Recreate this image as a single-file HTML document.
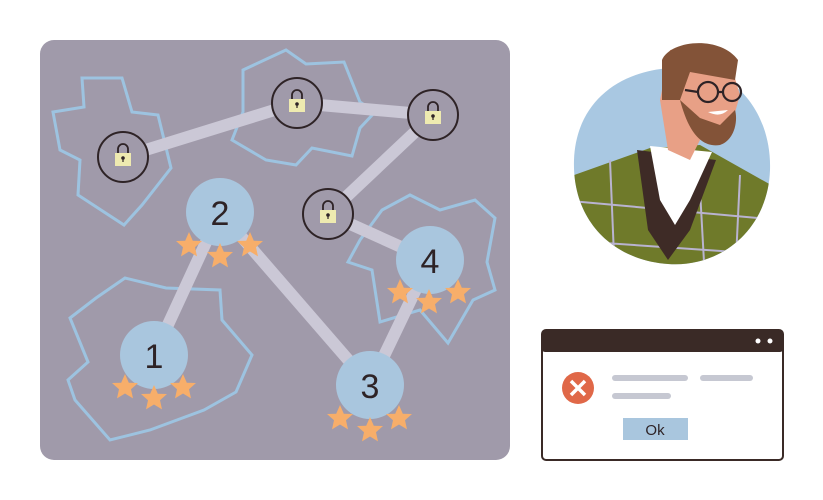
<!DOCTYPE html>
<html><head><style>body{margin:0;background:#fff}svg{display:block}</style></head><body>
<svg width="823" height="500" viewBox="0 0 823 500" xmlns="http://www.w3.org/2000/svg" font-family="Liberation Sans, sans-serif">
<defs>
<clipPath id="cc"><path d="M670,68 C730,60 772,110 770,170 C768,230 720,268 668,264 C612,260 572,220 574,160 C576,105 615,72 670,68Z"/></clipPath>
<g id="lock"><circle r="25" fill="none" stroke="#2e2326" stroke-width="2"/><path d="M-5,-3 v-5 a5,5 0 0 1 10,0 v5" fill="none" stroke="#2e2326" stroke-width="1.8"/><rect x="-8" y="-4" width="16" height="13" fill="#eeeab0"/><circle cy="1" r="1.8" fill="#2e2326"/><rect x="-0.6" y="1" width="1.2" height="4" fill="#2e2326"/></g>
<path id="star" d="M0,-13 L3.8,-4.3 L13,-4 L6,2.2 L8,11.4 L0,6.5 L-8,11.4 L-6,2.2 L-13,-4 L-3.8,-4.3Z" fill="#f7ae6a"/>
</defs>
<rect x="40" y="40" width="470" height="420" rx="14" fill="#a09aaa"/>
<g fill="none" stroke="#9dc3e0" stroke-width="3">
<path d="M53,112 L84,107 L82,78 L122,78 L132,112 L158,115 L171,168 L142,205 L124,225 L78,195 L80,160 L60,150Z"/>
<path d="M243,70 L286,50 L306,64 L344,62 L360,102 L375,112 L360,128 L352,156 L312,148 L296,165 L266,160 L232,140 L243,112Z"/>
<path d="M70,318 L96,298 L125,278 L166,288 L220,290 L222,320 L252,355 L236,392 L204,410 L150,430 L110,440 L75,400 L68,380 L88,362Z"/>
<path d="M360,240 L382,210 L410,195 L440,210 L475,200 L495,218 L487,262 L495,290 L473,300 L448,343 L420,310 L380,322 L372,270 L348,262Z"/>
</g>
<g stroke="#cbc8d6" stroke-width="12">
<line x1="123" y1="157" x2="297" y2="103"/><line x1="297" y1="103" x2="433" y2="115"/><line x1="433" y1="115" x2="328" y2="214"/><line x1="328" y1="214" x2="430" y2="260"/>
<line x1="220" y1="212" x2="154" y2="355"/><line x1="220" y1="212" x2="370" y2="385"/><line x1="430" y1="260" x2="370" y2="385"/>
</g>
<g fill="#a09aaa"><circle cx="123" cy="157" r="25"/><circle cx="297" cy="103" r="25"/><circle cx="433" cy="115" r="25"/><circle cx="328" cy="214" r="25"/></g>
<use href="#lock" x="123" y="157"/><use href="#lock" x="297" y="103"/><use href="#lock" x="433" y="115"/><use href="#lock" x="328" y="214"/>
<g fill="#a9c6de"><circle cx="220" cy="212" r="34"/><circle cx="154" cy="355" r="34"/><circle cx="370" cy="385" r="34"/><circle cx="430" cy="260" r="34"/></g>
<g font-size="34" fill="#2e2326" text-anchor="middle"><text x="220" y="225">2</text><text x="154" y="368">1</text><text x="370" y="398">3</text><text x="430" y="273">4</text></g>
<g>
<use href="#star" x="189" y="245"/><use href="#star" x="220" y="256"/><use href="#star" x="250" y="245"/>
<use href="#star" x="125" y="387"/><use href="#star" x="154" y="398"/><use href="#star" x="183" y="387"/>
<use href="#star" x="340" y="418"/><use href="#star" x="370" y="430"/><use href="#star" x="399" y="418"/>
<use href="#star" x="400" y="292"/><use href="#star" x="429" y="302"/><use href="#star" x="458" y="292"/>
</g>
<path d="M670,68 C730,60 772,110 770,170 C768,230 720,268 668,264 C612,260 572,220 574,160 C576,105 615,72 670,68Z" fill="#a9c8e2"/>
<g clip-path="url(#cc)">
<path d="M560,180 L650,148 L700,145 L780,190 L780,280 L560,280Z" fill="#6f7a2a"/>
<g stroke="#b9b3d0" stroke-width="2" fill="none"><path d="M610,160 L615,280 M560,200 L780,220 M560,240 L780,255 M740,175 L735,280 M700,190 L705,280"/></g>
<path d="M637,150 L648,230 L668,260 L690,230 L716,160 Z" fill="#3e2b26"/>
<path d="M650,146 L660,200 L675,225 L690,200 L712,152 Z" fill="#fff"/>
</g>
<path d="M660,100 L668,150 L690,160 L700,140 L730,130 L740,95 L730,62 L700,46 L670,50 Z" fill="#e8a086"/>
<path d="M662,60 C670,40 720,35 738,60 L735,80 L690,72 L680,100 L662,100Z" fill="#835338"/>
<path d="M680,100 C688,130 700,148 720,145 C735,140 738,120 735,110 L720,125 L700,118 Z" fill="#835338"/>
<g fill="none" stroke="#2e2326" stroke-width="2.2"><circle cx="708" cy="92" r="10"/><circle cx="732" cy="92" r="9"/><path d="M685,90 L698,92 M718,92 L723,92"/></g>
<path d="M708,112 Q720,118 728,110 Z" fill="#fff"/>
<rect x="542" y="330" width="241" height="130" rx="4" fill="#fff" stroke="#3a2a26" stroke-width="2"/>
<rect x="542" y="330" width="241" height="22" rx="3" fill="#3a2a26"/>
<circle cx="758" cy="341" r="2.5" fill="#fff"/><circle cx="770" cy="341" r="2.5" fill="#fff"/>
<circle cx="578" cy="388" r="16" fill="#e06848"/>
<path d="M571,381 L585,395 M585,381 L571,395" stroke="#fff" stroke-width="3.5"/>
<g stroke="#c6c8d2" stroke-width="6" stroke-linecap="round"><line x1="615" y1="378" x2="685" y2="378"/><line x1="703" y1="378" x2="750" y2="378"/><line x1="615" y1="396" x2="668" y2="396"/></g>
<rect x="623" y="418" width="65" height="22" fill="#a9c6de"/>
<text x="655" y="435" font-size="15" fill="#2e2326" text-anchor="middle">Ok</text>
</svg>
</body></html>
